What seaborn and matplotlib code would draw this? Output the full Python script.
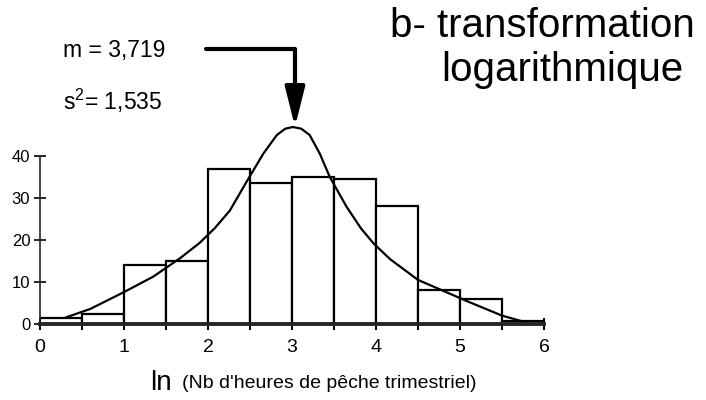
import numpy as np
import pandas as pd
import seaborn as sns
import matplotlib.pyplot as plt

# --- data ---
bin_edges = [0, 0.5, 1, 1.5, 2, 2.5, 3, 3.5, 4, 4.5, 5, 5.5, 6]
bin_centers = [0.25, 0.75, 1.25, 1.75, 2.25, 2.75, 3.25, 3.75, 4.25, 4.75, 5.25, 5.75]
bin_counts = [1.5, 2.5, 14, 15, 37, 33.5, 35, 34.5, 28, 8, 6, 0.6]

curve_x = [0.3, 0.6, 1.0, 1.35, 1.67, 1.9, 2.08, 2.26, 2.46, 2.66, 2.82, 2.92, 3.01,
           3.11, 3.21, 3.33, 3.45, 3.65, 3.82, 3.97, 4.17, 4.5, 4.8, 5.1, 5.5, 5.8]
curve_y = [1.5, 3.6, 7.6, 11.3, 15.7, 19.3, 22.8, 27, 33.9, 40.6, 45, 46.5, 46.9,
           46.5, 45, 40.6, 35, 27.9, 22.8, 19.2, 15.4, 10.5, 7.9, 5.3, 2.0, 0.3]

x_ticks = [0, 1, 2, 3, 4, 5, 6]
y_ticks = [0, 10, 20, 30, 40]

mean_txt = "m = 3,719"
var_txt = "s$^{2}$= 1,535"
title_lines = ["b- transformation", "logarithmique"]
xlabel_txt = "(Nb d'heures de pêche trimestriel)"

sns.set_style("ticks")
plt.rcParams['font.family'] = ['Liberation Sans', 'DejaVu Sans']
plt.rcParams['mathtext.fontset'] = 'custom'
plt.rcParams['mathtext.rm'] = 'Liberation Sans'
plt.rcParams['text.color'] = 'black'

fig = plt.figure(figsize=(7.06, 4.0), dpi=100)
ax = fig.add_axes([40 / 706, 76 / 400, 504 / 706, 197.4 / 400])

hist_df = pd.DataFrame({"x": bin_centers, "n": bin_counts})
sns.histplot(data=hist_df, x="x", weights="n", bins=bin_edges, ax=ax,
             color="white", edgecolor="black", linewidth=1.6, alpha=1)
sns.lineplot(x=curve_x, y=curve_y, ax=ax, color="black", lw=1.6, clip_on=False)

ax.set_xlim(0, 6)
ax.set_ylim(0, 47)
ax.set_xticks(bin_edges)
ax.set_xticklabels([str(int(v)) if v in x_ticks else "" for v in bin_edges], fontsize=14)
ax.set_yticks(y_ticks)
ax.set_yticklabels([str(v) for v in y_ticks], fontsize=12)
ax.tick_params(axis='x', direction='inout', length=9, width=1.4, pad=6, colors='black')
ax.tick_params(axis='y', direction='inout', length=8, width=1.2, pad=3, colors='black')
sns.despine(ax=ax)
ax.spines['left'].set_bounds(0, 40)
ax.spines['left'].set_linewidth(1.2)
ax.spines['bottom'].set_linewidth(2.8)
ax.set_xlabel("")
ax.set_ylabel("")

# annotations
fig.text(63 / 706, 1 - 51 / 400, mean_txt, fontsize=16.5, va='center', ha='left', color='black')
fig.text(63 / 706, 1 - 101 / 400, var_txt, fontsize=16.5, va='center', ha='left', color='black')
fig.text(542 / 706, 1 - 26 / 400, title_lines[0], fontsize=29, va='center', ha='center', color='black')
fig.text(562 / 706, 1 - 70 / 400, title_lines[1], fontsize=29, va='center', ha='center', color='black')
fig.text(150 / 706, 1 - 383 / 400, "ln", fontsize=20, va='center', ha='left', color='black')
fig.text(182 / 706, 1 - 383 / 400, xlabel_txt, fontsize=14, va='center', ha='left', color='black')

ax.annotate('', xy=(295, 400 - 127), xytext=(206, 400 - 49), xycoords='figure pixels',
            textcoords='figure pixels',
            arrowprops=dict(arrowstyle='-|>,head_length=1.2,head_width=0.3',
                            connectionstyle='angle,angleA=0,angleB=90,rad=0',
                            lw=3.0, color='black', mutation_scale=20,
                            shrinkA=0, shrinkB=0))

fig.savefig("out.png", dpi=100)
